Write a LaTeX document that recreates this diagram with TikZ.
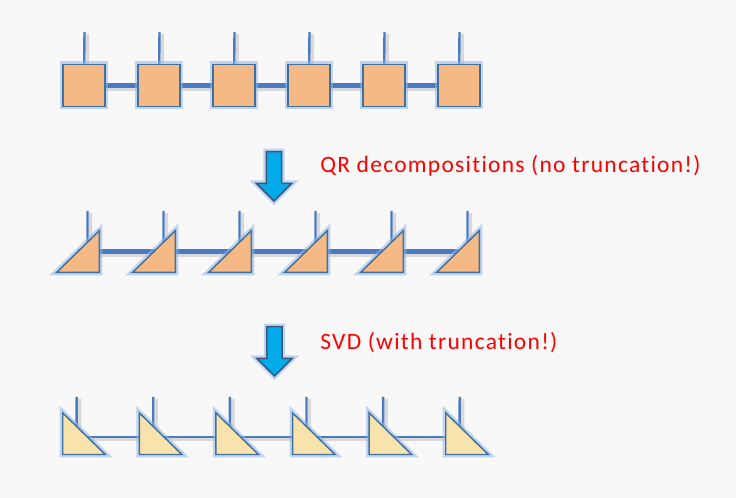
\documentclass[tikz,border=0pt]{standalone}
\usepackage{fontspec}
\setmainfont{Carlito}[LetterSpace=5.5, Ligatures=NoCommon]
\usetikzlibrary{shapes.arrows,backgrounds}
\definecolor{pagegray}{HTML}{F8F8F8}
\definecolor{bondblue}{HTML}{4A7BC2}
\definecolor{edgeblue}{HTML}{41719C}
\definecolor{glowblue}{HTML}{8FB8EC}
\definecolor{peach}{HTML}{F4B984}
\definecolor{sand}{HTML}{F9E3AC}
\definecolor{arrowfill}{HTML}{04ABEA}
\definecolor{arrowedge}{HTML}{3B5878}
\begin{document}
\begin{tikzpicture}[
	x=0.75pt, y=-0.75pt,
	font=\fontsize{17.6}{21}\selectfont,
	glow/.style={preaction={draw=glowblue, line width=4.5pt, opacity=0.55}},
	sq/.style={rectangle, draw=edgeblue, fill=peach, line width=1.1pt, minimum size=31.5pt, inner sep=0pt, glow},
	slot/.style={rectangle, minimum width=31.5pt, minimum height=30.8pt, inner sep=0pt},
	tri/.style={draw=edgeblue, line width=1.1pt, line join=miter, glow},
	leg/.style={draw=bondblue, line width=1.8pt,
		preaction={draw=black, opacity=0.12, line width=2.6pt, transform canvas={xshift=2.2pt, yshift=-1.5pt}}},
	bond/.style={draw=bondblue, line width=3.4pt,
		preaction={draw=black, opacity=0.12, line width=4pt, transform canvas={xshift=1.5pt, yshift=-2.5pt}}},
	thinbond/.style={draw=bondblue, line width=1.7pt,
		preaction={draw=black, opacity=0.12, line width=2.4pt, transform canvas={xshift=1.5pt, yshift=-2pt}}},
	darrow/.style={single arrow, draw=arrowedge, fill=arrowfill, line width=1.1pt, inner sep=5.2pt,
		single arrow head extend=7.5pt, single arrow head indent=0pt, shape border rotate=270,
		minimum height=37pt, glow},
	note/.style={text=red, anchor=base west, inner sep=0pt},
	]
\foreach \i in {1,...,6} {
	\node [sq] (a\i) at ({84+75*(\i-1)}, 85.5) {};
	\coordinate (at\i) at ({84.5+75*(\i-1)}, 32);
	\node [slot] (b\i) at ({78+76*(\i-1)}, 251.5) {};
	\coordinate (bt\i) at ({87.5+76*(\i-1)}, 211);
	\node [slot] (c\i) at ({84+76.6*(\i-1)}, 433.7) {};
	\coordinate (ct\i) at ({76.7+76.6*(\i-1)}, 397);
}
\begin{scope}[on background layer]
	\fill [pagegray] (0,0) rectangle (736,498);
	\foreach \i [count=\j from 2] in {1,...,5} {
		\draw [bond] (a\i.center) -- (a\j.center);
		\draw [bond] (b\i.center) -- (b\j.center);
		\draw [thinbond] ([yshift=-2.6pt]c\i.center) -- ([yshift=-2.6pt]c\j.center);
	}
	\foreach \i in {1,...,6} {
		\draw [leg] (at\i) -- (a\i.center);
		\draw [leg] (bt\i) -- ([xshift=7.1pt]b\i.center);
		\draw [leg] (ct\i) -- ([xshift=-5.5pt]c\i.center);
	}
\end{scope}
\foreach \i in {1,...,6} {
	\draw [tri, fill=peach] (b\i.south west) -- (b\i.south east) -- (b\i.north east) -- cycle;
	\draw [tri, fill=sand] (c\i.north west) -- (c\i.south east) -- (c\i.south west) -- cycle;
}
\node [darrow] (qrarrow) at (274, 172.5) {};
\node [darrow] (svdarrow) at (274.5, 347.5) {};
\node [note] (qrnote) at (320, 173) {QR decompositions (no truncation!)};
\node [note] (svdnote) at (320, 350) {SVD (with truncation!)};
\end{tikzpicture}
\end{document}
